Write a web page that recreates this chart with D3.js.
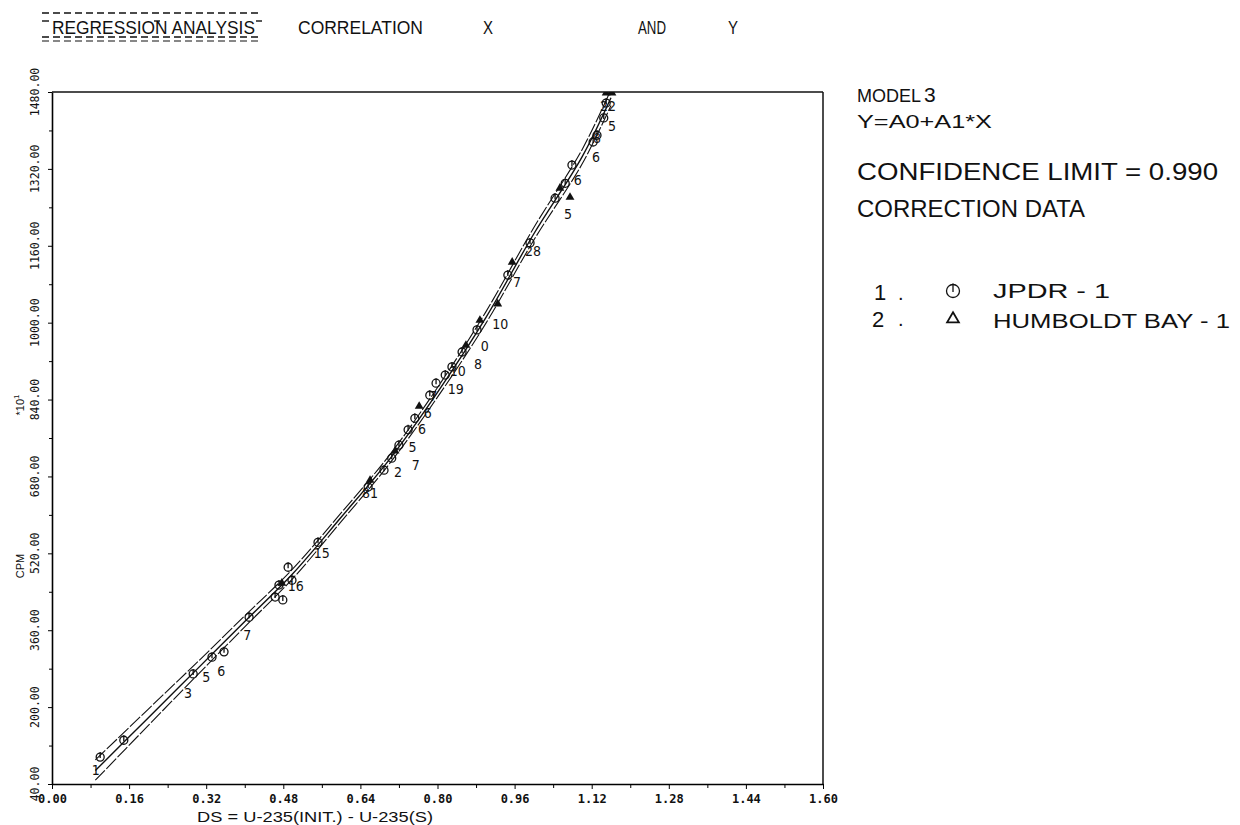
<!DOCTYPE html>
<html><head><meta charset="utf-8">
<script src="https://cdn.jsdelivr.net/npm/d3@7"></script>
<style>
body{margin:0;background:#fff;}
svg{display:block;}
text{font-family:"Liberation Sans","DejaVu Sans",sans-serif;fill:#111;}
.num{font-family:"Liberation Sans Narrow","DejaVu Sans Condensed","DejaVu Sans",sans-serif;}
.mono{font-family:"DejaVu Sans Mono","Liberation Mono",monospace;}
</style></head>
<body>
<svg id="c" width="1240" height="825"></svg>
<script>
// ---------- data ----------
const xTicks = [0.00,0.16,0.32,0.48,0.64,0.80,0.96,1.12,1.28,1.44,1.60];
const yTicks = [40,200,360,520,680,840,1000,1160,1320,1480];
const xTickLabels = ["0.00","0.16","0.32","0.48","0.64","0.80","0.96","1.12","1.28","1.44","1.60"];
const yTickLabels = ["40.00","200.00","360.00","520.00","680.00","840.00","1000.00","1160.00","1320.00","1480.00"];

const fitX   = [0.09,0.20,0.30,0.40,0.50,0.60,0.70,0.80,0.90,1.00,1.10,1.16];
const fitY   = [68,178,278,378,478,595,715,855,1010,1185,1345,1468];
const upperY = [90,196,292,390,488,604,724,865,1022,1198,1360,1485];
const lowerY = [48,162,265,367,468,586,706,845,998,1172,1330,1452];

const seriesNames = ["JPDR - 1","HUMBOLDT BAY - 1"];
// JPDR-1 points (circles)
const jpdrX = [0.100,0.149,0.293,0.332,0.357,0.409,0.463,0.471,0.479,0.490,0.498,0.552,
               0.656,0.689,0.705,0.720,0.739,0.753,0.784,0.797,0.816,0.830,0.851,0.882,
               0.946,0.992,1.044,1.065,1.079,1.123,1.131,1.145,1.150];
const jpdrY = [96,131,269,304,315,387,429,454,423,491,464,543,
               658,693,718,745,777,801,849,874,891,908,939,985,
               1099,1166,1259,1290,1328,1376,1390,1426,1457];
// Humboldt Bay-1 points (triangles)
const hbX = [0.477,0.660,0.712,0.762,0.859,0.888,0.925,0.955,1.054,1.075,1.150,1.162];
const hbY = [458,672,733,826,953,1005,1039,1126,1280,1261,1478,1478];

// point number labels (label centres)
const labText = ["1","3","5","6","7","16","15","81","2","7","5","6","6","7","19","10","8","0","10","7","28","5","6","8","6","5","22"];
const labX    = [0.091,0.282,0.320,0.351,0.405,0.506,0.560,0.660,0.718,0.755,0.748,0.768,0.780,0.791,0.838,0.842,0.884,0.898,0.930,0.965,0.998,1.071,1.091,1.131,1.129,1.162,1.154];
const labY    = [69,230,263,276,351,452,521,645,689,704,742,778,812,848,863,900,915,952,998,1085,1150,1227,1296,1385,1345,1410,1450];

// ---------- layout ----------
const svg = d3.select("#c");
const x = d3.scaleLinear().domain([0,1.6]).range([52,823]);
const y = d3.scaleLinear().domain([40,1480]).range([784,92]);

function txt(g,s,x0,y0,fs,len){
  const t=g.append("text").attr("x",x0).attr("y",y0).attr("font-size",fs).text(s);
  if(len) t.attr("textLength",len).attr("lengthAdjust","spacingAndGlyphs");
  return t;
}

// header
const hdr = svg.append("g");
txt(hdr,"REGRESSION ANALYSIS",52,34,19,203);
[[13,1.6],[37,1.6],[41,1.2]].forEach(d=>{
  hdr.append("line").attr("x1",42).attr("x2",262).attr("y1",d[0]).attr("y2",d[0])
     .attr("stroke","#111").attr("stroke-width",d[1]).attr("stroke-dasharray","7,4");
});
[[42,49],[154,160],[256,262]].forEach(d=>{
  hdr.append("line").attr("x1",d[0]).attr("x2",d[1]).attr("y1",21).attr("y2",21).attr("stroke","#111").attr("stroke-width",1.4);
});
[["CORRELATION",298,125],["X",483,10],["AND",638,28],["Y",728,10]].forEach(d=>txt(hdr,d[0],d[1],34,19,d[2]));

// frame top/right
svg.append("line").attr("x1",52).attr("x2",823).attr("y1",92).attr("y2",92).attr("stroke","#111").attr("stroke-width",1.3);
svg.append("line").attr("x1",823).attr("x2",823).attr("y1",92).attr("y2",784).attr("stroke","#111").attr("stroke-width",1.5);

// axes
const minorX = d3.range(0.08,1.6,0.16);
const minorY = d3.range(120,1480,160);
svg.append("g").attr("transform","translate(0,784)")
   .call(d3.axisBottom(x).tickValues(minorX).tickSize(4).tickFormat(""))
   .call(g=>g.select(".domain").remove());
svg.append("g").attr("transform","translate(0,784)")
   .call(d3.axisBottom(x).tickValues(xTicks).tickSizeInner(5).tickSizeOuter(0).tickPadding(5)
         .tickFormat((d,i)=>xTickLabels[i]))
   .call(g=>g.selectAll("text").attr("class","mono").attr("font-size",12).attr("font-weight","bold").attr("fill","#111"))
   .call(g=>g.select(".domain").attr("stroke-width",1.4));
svg.append("g").attr("transform","translate(52,0)")
   .call(d3.axisLeft(y).tickValues(minorY).tickSize(3).tickFormat(""))
   .call(g=>g.select(".domain").remove());
svg.append("g").attr("transform","translate(52,0)")
   .call(d3.axisLeft(y).tickValues(yTicks).tickSizeInner(4).tickSizeOuter(0).tickFormat(""))
   .call(g=>g.select(".domain").attr("stroke-width",1.6));
yTicks.forEach((v,i)=>{
  svg.append("text").attr("class","mono").attr("transform",`translate(39,${y(v)}) rotate(-90)`)
     .attr("text-anchor","middle").attr("font-size",11.5).text(yTickLabels[i]);
});

// axis titles
txt(svg,"DS = U-235(INIT.) - U-235(S)",197,822,15,236);
svg.append("text").attr("transform","translate(24,566) rotate(-90)").attr("text-anchor","middle")
   .attr("font-size",11).text("CPM");
const t10 = svg.append("text").attr("transform","translate(24,405) rotate(-90)").attr("text-anchor","middle")
   .attr("font-size",11);
t10.append("tspan").text("*10");
t10.append("tspan").attr("dy",-5).attr("font-size",8).text("1");

// plot content clipped
svg.append("clipPath").attr("id","pc").append("rect").attr("x",52).attr("y",92).attr("width",771).attr("height",692);
const plot = svg.append("g").attr("clip-path","url(#pc)");

const line = ys => d3.line().x((d,i)=>x(fitX[i])).y(d=>y(d)).curve(d3.curveCatmullRom)(ys);
plot.append("path").attr("d",line(upperY)).attr("fill","none").attr("stroke","#111").attr("stroke-width",1.1).attr("stroke-dasharray","14,2");
plot.append("path").attr("d",line(lowerY)).attr("fill","none").attr("stroke","#111").attr("stroke-width",1.1).attr("stroke-dasharray","14,2");
plot.append("path").attr("d",line(fitY)).attr("fill","none").attr("stroke","#111").attr("stroke-width",1.4);

// markers
function circ(g,cx,cy,r){
  g.append("circle").attr("cx",cx).attr("cy",cy).attr("r",r).attr("fill","none").attr("stroke","#111").attr("stroke-width",1.3);
  g.append("line").attr("x1",cx).attr("x2",cx).attr("y1",cy-r-1).attr("y2",cy+1).attr("stroke","#111").attr("stroke-width",1.3);
}
const tri = d3.symbol().type(d3.symbolTriangle).size(34);
jpdrX.forEach((v,i)=>circ(plot,x(v),y(jpdrY[i]),4));
hbX.forEach((v,i)=>{
  plot.append("path").attr("d",tri()).attr("transform",`translate(${x(v)},${y(hbY[i])})`).attr("fill","#111");
});
labText.forEach((t,i)=>{
  plot.append("text").attr("class","num").attr("x",x(labX[i])).attr("y",y(labY[i])).attr("dy","0.36em")
      .attr("text-anchor","middle").attr("font-size",14).text(t);
});

// right panel
const rp = svg.append("g");
const m3 = rp.append("text").attr("x",857).attr("y",102).attr("font-size",18);
m3.append("tspan").text("MODEL");
m3.append("tspan").attr("dx",3).attr("font-size",21).text("3");
txt(rp,"Y=A0+A1*X",857,128,18,135);
txt(rp,"CONFIDENCE LIMIT = 0.990",857,180,24,361);
txt(rp,"CORRECTION DATA",857,217,23,228);
// legend
txt(rp,"1",874,300,22);
txt(rp,".",898,300,20);
circ(rp,953,291,6.5);
txt(rp,seriesNames[0],993,298,20,117);
txt(rp,"2",872,327,22);
txt(rp,".",898,326,20);
rp.append("path").attr("d",d3.symbol().type(d3.symbolTriangle).size(60)()).attr("transform","translate(953,319)")
  .attr("fill","none").attr("stroke","#111").attr("stroke-width",1.8);
txt(rp,seriesNames[1],993,328,20,237);
</script>
</body></html>
